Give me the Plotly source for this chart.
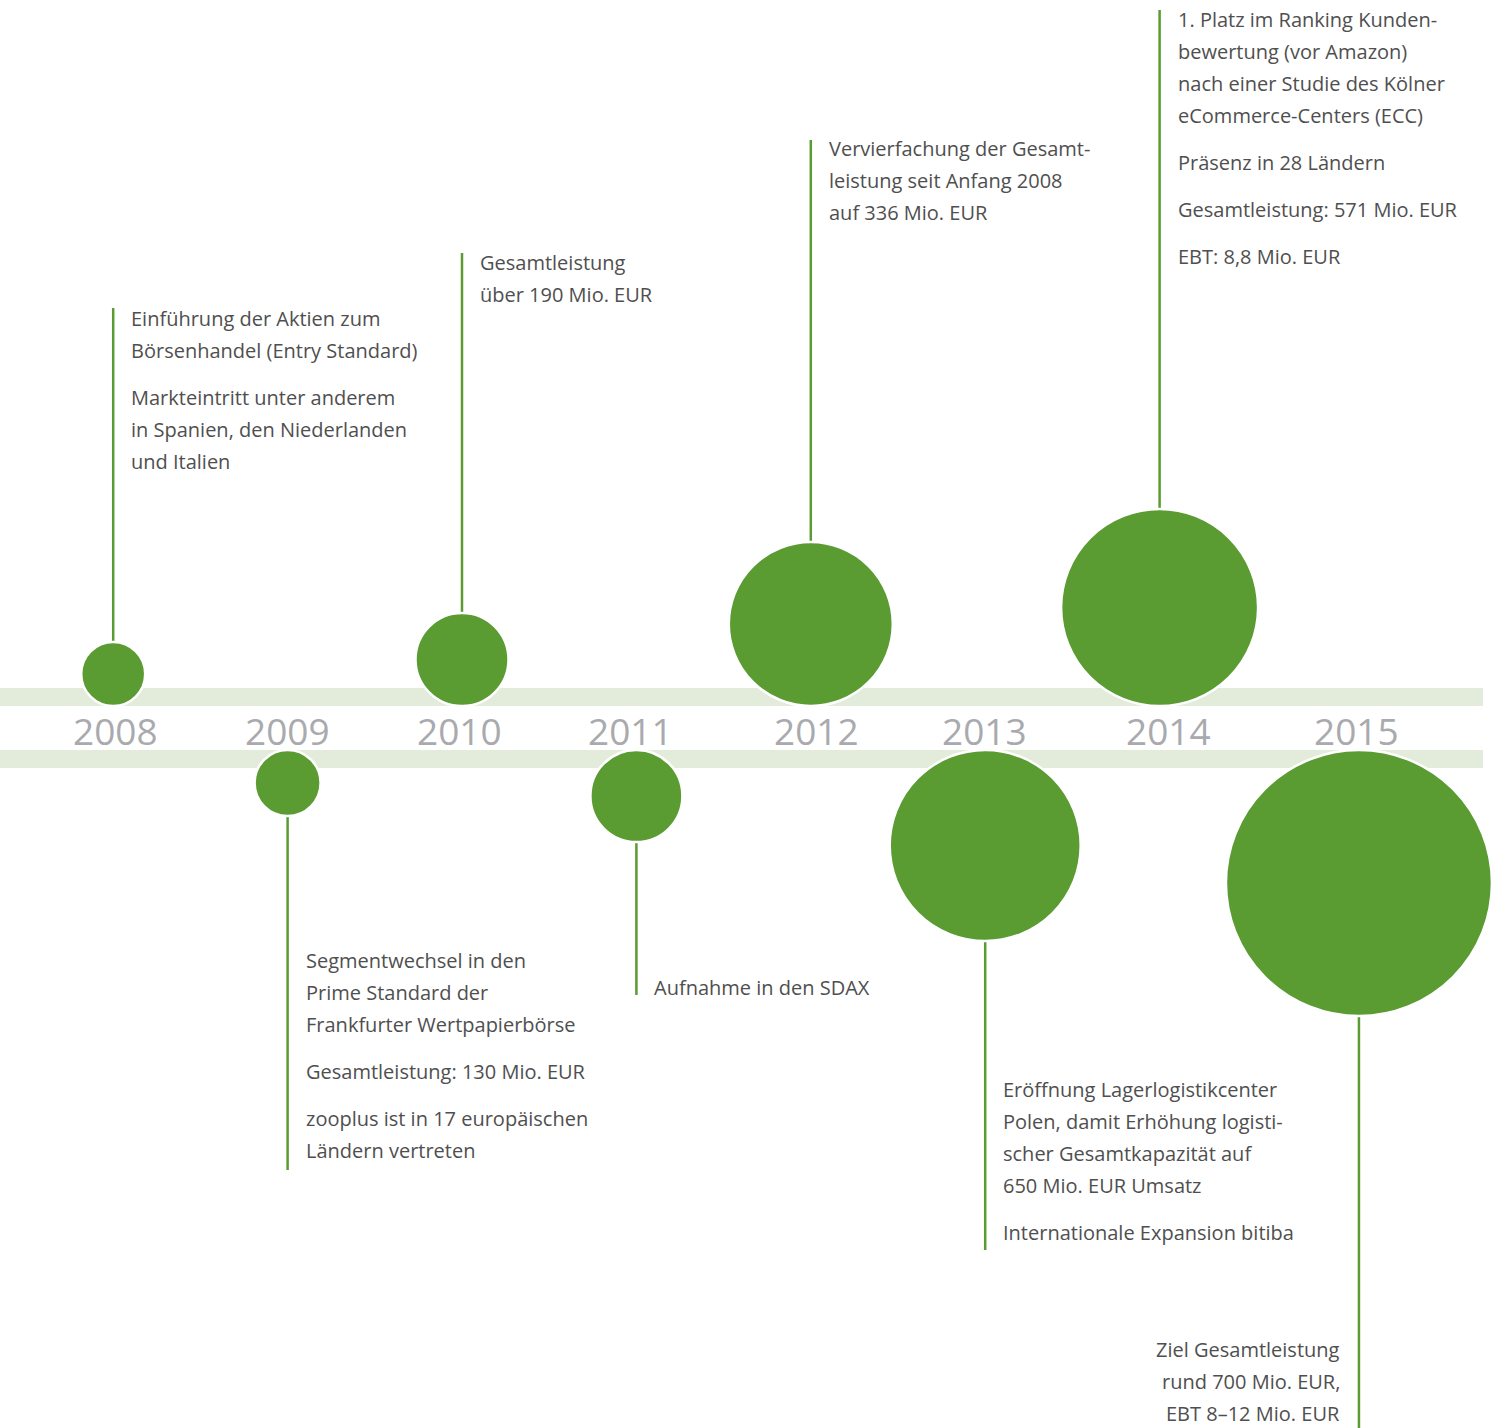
import plotly.graph_objects as go

# --- data -------------------------------------------------------------
years = [2008, 2009, 2010, 2011, 2012, 2013, 2014, 2015]
bubble_radius = [32, 33, 46.5, 46, 82, 95.5, 98.5, 133]
side = ["up", "down", "up", "down", "up", "down", "up", "down"]

notes = [
    [["Einführung der Aktien zum", "Börsenhandel (Entry Standard)"],
     ["Markteintritt unter anderem", "in Spanien, den Niederlanden", "und Italien"]],
    [["Segmentwechsel in den", "Prime Standard der", "Frankfurter Wertpapierbörse"],
     ["Gesamtleistung: 130 Mio. EUR"],
     ["zooplus ist in 17 europäischen", "Ländern vertreten"]],
    [["Gesamtleistung", "über 190 Mio. EUR"]],
    [["Aufnahme in den SDAX"]],
    [["Vervierfachung der Gesamt-", "leistung seit Anfang 2008", "auf 336 Mio. EUR"]],
    [["Eröffnung Lagerlogistikcenter", "Polen, damit Erhöhung logisti-",
      "scher Gesamtkapazität auf", "650 Mio. EUR Umsatz"],
     ["Internationale Expansion bitiba"]],
    [["1. Platz im Ranking Kunden-", "bewertung (vor Amazon)",
      "nach einer Studie des Kölner", "eCommerce-Centers (ECC)"],
     ["Präsenz in 28 Ländern"],
     ["Gesamtleistung: 571 Mio. EUR"],
     ["EBT: 8,8 Mio. EUR"]],
    [["Ziel Gesamtleistung", "rund 700 Mio. EUR,", "EBT 8–12 Mio. EUR"]],
]

# --- layout helpers ---------------------------------------------------
GREEN = "#5a9b32"
BAND = "#e3ecda"
TEXT = "#4f4f4f"
YEARC = "#a9aaae"
FONT = "Open Sans"

W, H = 1501, 1428
BAND_TOP = (688, 706)
BAND_BOT = (750, 768)

x_nudge = [0, 0, 0, 0, 0, 0, 0, 0.143]           # largest bubble pushed right
label_nudge_px = [2, 0, -3, -6, 6, -1, 9, -2]    # year labels sit slightly off-centre
note_top = [318, 960, 262, 987, 148, 1089, 19, 1349]
stem_end = [308, 1170, 253, 995, 140, 1250, 10, 1428]
LINE = 32
PARA = 47
X_PER_PX = 1 / 174.4

xs = [y + n for y, n in zip(years, x_nudge)]
cy = [BAND_TOP[1] - r if s == "up" else BAND_BOT[0] + r
      for r, s in zip(bubble_radius, side)]

fig = go.Figure()

# bands
for y0, y1 in (BAND_TOP, BAND_BOT):
    fig.add_shape(type="rect", xref="paper", yref="y", x0=0, x1=1483 / W,
                  y0=y0, y1=y1, fillcolor=BAND, line_width=0, layer="below")

# stems
for x, c, e in zip(xs, cy, stem_end):
    fig.add_trace(go.Scatter(x=[x, x], y=[c, e], mode="lines",
                             line=dict(color=GREEN, width=2.5),
                             hoverinfo="skip", showlegend=False))

# bubbles
fig.add_trace(go.Scatter(
    x=xs, y=cy, mode="markers",
    marker=dict(size=[2 * r for r in bubble_radius], color=GREEN,
                line=dict(color="white", width=2.5), opacity=1),
    hoverinfo="skip", showlegend=False))

# year labels
for yr, x, dx in zip(years, xs, label_nudge_px):
    fig.add_annotation(x=x + dx * X_PER_PX, y=730, text=str(yr), showarrow=False,
                       xanchor="center", yanchor="middle",
                       font=dict(family=FONT, size=37, color=YEARC))

# notes
for i, (x, paras) in enumerate(zip(xs, notes)):
    y = note_top[i]
    right = years[i] == 2015
    for pi, para in enumerate(paras):
        if pi > 0:
            y += PARA - LINE
        for line in para:
            fig.add_annotation(
                x=x + (-17 if right else 16) * X_PER_PX, y=y, text=line,
                showarrow=False, xanchor="right" if right else "left",
                yanchor="middle",
                font=dict(family=FONT, size=20, color=TEXT))
            y += LINE

fig.update_layout(
    width=W, height=H, margin=dict(l=0, r=0, t=0, b=0),
    paper_bgcolor="white", plot_bgcolor="white",
    xaxis=dict(range=[2011 - 636.4 * X_PER_PX, 2011 + (W - 636.4) * X_PER_PX],
               visible=False, fixedrange=True),
    yaxis=dict(range=[H, 0], visible=False, fixedrange=True),
    showlegend=False,
)

fig.write_html("out.html", config={"displayModeBar": False},
               post_script="document.body.style.margin='0';")
